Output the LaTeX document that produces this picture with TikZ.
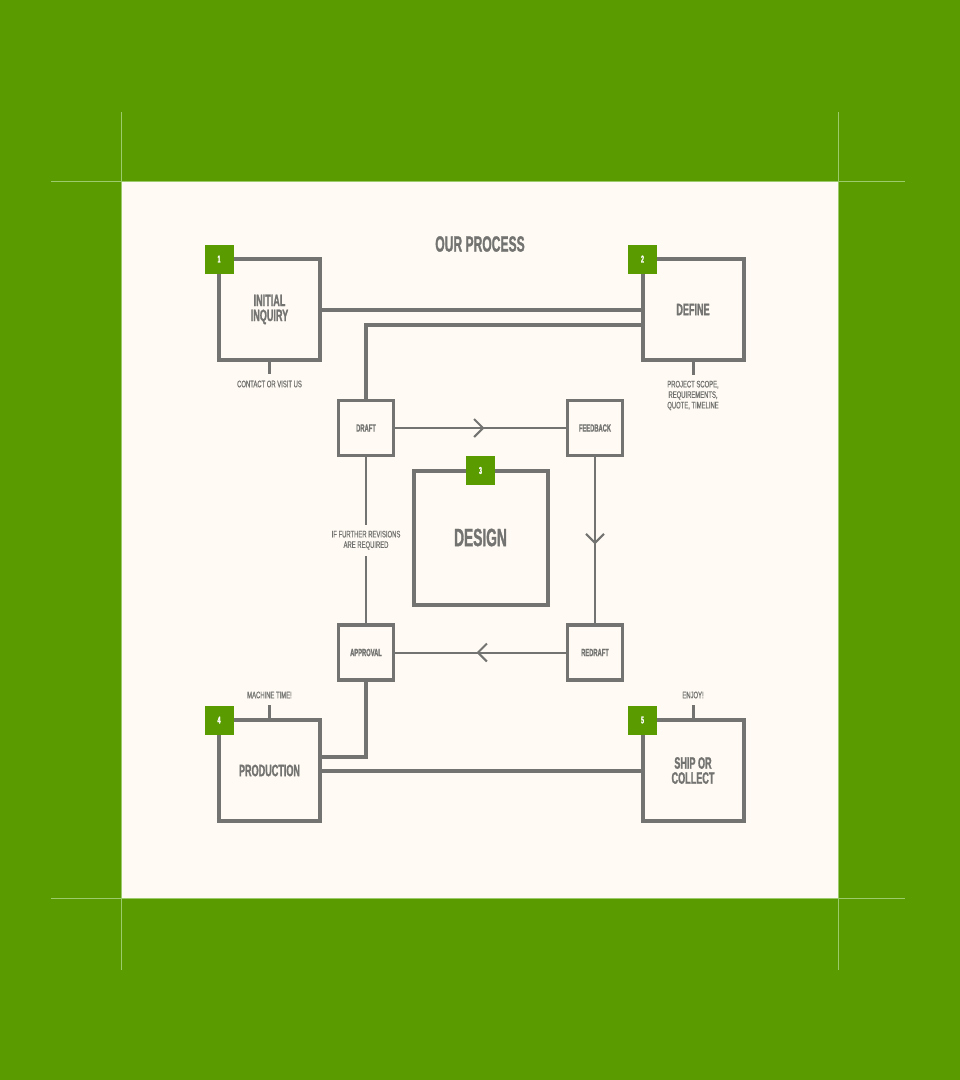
\documentclass[tikz,border=0pt]{standalone}
\usepackage{fontspec}
\newfontfamily\condfont[FakeStretch=0.55, FakeBold=1.2]{Liberation Sans}
\newfontfamily\notefont[FakeStretch=0.62, FakeBold=0.6]{Liberation Sans}
\usetikzlibrary{calc, arrows.meta, decorations.markings}
\definecolor{leaf}{HTML}{5A9B00}
\definecolor{paper}{HTML}{FFFAF3}
\definecolor{ink}{HTML}{737371}
\definecolor{cropline}{HTML}{9CCB6C}

\begin{document}
\begin{tikzpicture}[x=1pt, y=-1pt,
  bigbox/.style={draw=ink, line width=4pt, minimum size=101pt, inner sep=0pt, outer sep=0pt,
    align=center, text=ink, font=\condfont\bfseries\fontsize{16.5}{15}\selectfont},
  smallbox/.style={draw=ink, line width=3.5pt, minimum size=55pt, inner sep=0pt,
    text=ink, font=\condfont\bfseries\fontsize{10.5}{11}\selectfont},
  badge/.style={fill=leaf, minimum size=29pt, inner sep=0pt, text=white,
    font=\condfont\bfseries\fontsize{10}{10}\selectfont},
  note/.style={text=ink, align=center, inner sep=2pt, font=\notefont\fontsize{9.5}{10.5}\selectfont},
  link/.style={draw=ink, line width=4pt},
  thinline/.style={draw=ink, line width=2pt},
  tick/.style={draw=ink, line width=3pt, shorten >=4pt},
  midarrow/.style={postaction={decorate, decoration={markings,
    mark=at position 0.5 with {\arrow[xshift=4pt]{Straight Barb[length=9pt, width=18pt]}}}}},
]
  \useasboundingbox (0,0) rectangle (960,1080);
  \fill[leaf] (0,0) rectangle (960,1080);
  % crop marks
  \draw[cropline, line width=1pt] (121.5,112) -- (121.5,970) (838.5,112) -- (838.5,970)
    (51,181.5) -- (905,181.5) (51,898.5) -- (905,898.5);
  \fill[paper] (122,182) rectangle (838,898);

  \node[text=ink, font=\condfont\bfseries\fontsize{22}{22}\selectfont] (title) at (480,244) {OUR PROCESS};

  \node[bigbox] (inquiry) at (269.5,309.5) {INITIAL\\INQUIRY};
  \node[bigbox] (define)  at (693,309.5)   {DEFINE};
  \node[bigbox] (prod)    at (269.5,770.5) {PRODUCTION};
  \node[bigbox] (ship)    at (693,770.5)   {SHIP OR\\COLLECT};
  \node[bigbox, minimum size=134pt, font=\condfont\bfseries\fontsize{25}{25}\selectfont]
    (design) at (480.5,537.5) {DESIGN};

  \node[smallbox] (draft)    at (366,428)   {DRAFT};
  \node[smallbox] (feedback) at (595,428)   {FEEDBACK};
  \node[smallbox] (redraft)  at (595,652.5) {REDRAFT};
  \node[smallbox] (approval) at (366,652.5) {APPROVAL};

  \draw[link] (inquiry.east) -- (define.west);
  \draw[link] ($(define.west)+(0,15)$) -| (draft.north);
  \draw[link] (approval.south) |- ($(prod.east)+(0,-14)$);
  \draw[link] (prod.east) -- (ship.west);

  \draw[thinline, midarrow] (draft.east) -- (feedback.west);
  \draw[thinline, midarrow] (feedback.south) -- (redraft.north);
  \draw[thinline, midarrow] (redraft.west) -- (approval.east);
  \draw[thinline] (approval.north) -- node[note, fill=paper, inner ysep=6pt] (revnote)
    {IF FURTHER REVISIONS\\ARE REQUIRED} (draft.south);

  \node[note] (contact) at (269.5,384) {CONTACT OR VISIT US};
  \node[note] (scope)   at (693,395.5) {PROJECT SCOPE,\\REQUIREMENTS,\\QUOTE, TIMELINE};
  \node[note] (machine) at (269.5,695) {MACHINE TIME!};
  \node[note] (enjoy)   at (693,695)   {ENJOY!};
  \draw[tick] (inquiry.south) -- (contact.north);
  \draw[tick] (define.south) -- (scope.north);
  \draw[tick] (prod.north) -- (machine.south);
  \draw[tick] (ship.north) -- (enjoy.south);

  \foreach \b/\n in {inquiry/1, define/2, prod/4, ship/5}
    \node[badge] (badge\n) at (\b.north west) {\n};
  \node[badge] (badge3) at (design.north) {3};
\end{tikzpicture}
\end{document}
